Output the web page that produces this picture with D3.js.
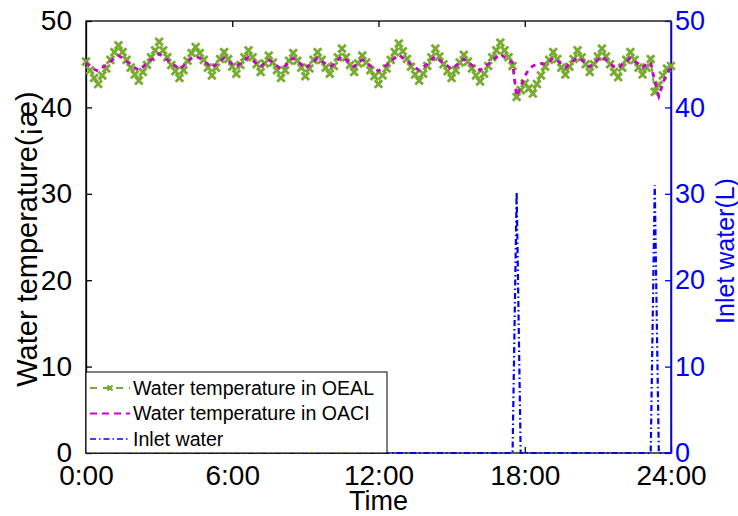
<!DOCTYPE html>
<html>
<head>
<meta charset="utf-8">
<script src="https://cdn.jsdelivr.net/npm/d3@7"></script>
<style>
body { margin: 0; background: #fff; }
text { font-family: Arial, "Liberation Sans", sans-serif; }
</style>
</head>
<body>
<div id="chart"></div>
<script>
// samples every 10 minutes, 0:00 .. 24:00
const stepMinutes = 10;
const oeal = [
  45.3,44.3,43.4,42.7,43.7,44.5,45.5,46.4,47.2,46.4,
  45.5,44.6,43.8,43.1,44.1,44.9,45.8,46.6,47.6,46.6,
  45.8,44.9,44.2,43.4,44.3,45.4,46.3,47.0,46.3,45.5,
  44.6,43.7,44.6,45.6,46.4,45.6,44.7,43.9,44.9,45.8,
  46.6,45.8,45.0,44.1,45.1,46.0,45.2,44.3,43.4,44.3,
  45.4,46.3,45.4,44.6,43.6,44.5,45.5,46.4,45.5,44.6,
  43.9,44.8,45.8,46.8,45.8,44.9,44.1,45.1,46.0,45.2,
  44.3,43.6,42.7,43.7,44.5,45.5,46.4,47.4,46.5,45.6,
  44.7,43.8,43.1,43.9,44.8,45.8,46.8,45.9,45.0,44.2,
  43.4,44.3,45.2,46.1,45.3,44.5,43.7,43.0,43.9,44.8,
  45.8,46.6,47.5,46.6,45.8,44.8,41.2,42.0,42.8,42.2,
  41.6,42.7,43.7,44.7,45.5,46.4,45.6,44.6,43.8,44.7,
  45.6,46.6,45.8,45.0,44.1,45.0,45.9,46.8,45.9,45.0,
  44.1,43.5,44.6,45.5,46.4,45.5,44.6,43.8,44.6,45.6,
  41.8,42.6,43.7,44.5,44.8
];
const oaci = [
  45.2,44.8,44.4,44.2,44.6,44.9,45.3,45.7,46.0,45.7,
  45.3,45.0,44.6,44.3,44.7,45.1,45.5,45.8,46.2,45.8,
  45.5,45.1,44.8,44.4,44.8,45.3,45.7,45.9,45.7,45.3,
  45.0,44.6,45.0,45.4,45.7,45.4,45.0,44.7,45.1,45.5,
  45.8,45.5,45.1,44.7,45.2,45.5,45.2,44.8,44.4,44.8,
  45.3,45.7,45.3,45.0,44.5,44.9,45.3,45.7,45.3,45.0,
  44.7,45.0,45.5,45.9,45.5,45.1,44.7,45.2,45.5,45.2,
  44.8,44.5,44.2,44.6,44.9,45.3,45.7,46.1,45.7,45.4,
  45.0,44.6,44.3,44.7,45.0,45.5,45.9,45.5,45.1,44.8,
  44.4,44.8,45.2,45.6,45.2,44.9,44.6,44.3,44.7,45.0,
  45.5,45.8,46.2,45.8,45.5,45.2,41.3,42.4,43.6,44.4,
  44.8,45.0,45.1,45.0,45.3,45.7,45.4,45.0,44.6,45.0,
  45.4,45.8,45.5,45.1,44.7,45.1,45.5,45.9,45.5,45.1,
  44.7,44.5,45.0,45.3,45.7,45.3,45.0,44.6,45.0,45.2,
  43.0,41.3,42.8,44.0,44.6
];
const inletHours  = [0, 17.5, 17.667, 17.833, 23.167, 23.333, 23.5, 24];
const inletLitres = [0, 0, 30.2, 0, 0, 31.0, 0, 0];

const xTicks = [0, 6, 12, 18, 24];
const xTickLabels = ["0:00", "6:00", "12:00", "18:00", "24:00"];
const yTicks = [0, 10, 20, 30, 40, 50];
const legendLabels = ["Water temperature in OEAL", "Water temperature in OACI", "Inlet water"];

const W = 738, H = 516;
const margin = { top: 21, right: 67, bottom: 63, left: 86 };
const green = "#77ac30", magenta = "#cc00cc", blue = "#0000ff";

const svg = d3.select("#chart").append("svg")
  .attr("width", W).attr("height", H);

const x = d3.scaleLinear().domain([0, 24]).range([margin.left, W - margin.right]);
const yL = d3.scaleLinear().domain([0, 50]).range([H - margin.bottom, margin.top]);
const yR = d3.scaleLinear().domain([0, 50]).range([H - margin.bottom, margin.top]);

const hourOf = i => i * stepMinutes / 60;

// frame
svg.append("rect")
  .attr("x", margin.left).attr("y", margin.top)
  .attr("width", x(24) - x(0)).attr("height", yL(0) - yL(50))
  .attr("fill", "none").attr("stroke", "#000").attr("stroke-width", 1.3);

// left axis
const gL = svg.append("g").attr("transform", `translate(${margin.left},0)`)
  .call(d3.axisLeft(yL).tickValues(yTicks).tickSizeInner(-6).tickSizeOuter(0).tickPadding(14));
gL.select(".domain").attr("stroke", "#000").attr("stroke-width", 1.3);
gL.selectAll("line").attr("stroke", "#000").attr("stroke-width", 1.3);
gL.selectAll("text").attr("font-size", 28).attr("fill", "#000");

// bottom axis
const gB = svg.append("g").attr("transform", `translate(0,${yL(0)})`)
  .call(d3.axisBottom(x).tickValues(xTicks).tickFormat((d, i) => xTickLabels[i])
    .tickSizeInner(-6).tickSizeOuter(0).tickPadding(12));
gB.select(".domain").remove();
gB.selectAll("line").attr("stroke", "#000").attr("stroke-width", 1.3);
gB.selectAll("text").attr("font-size", 28).attr("fill", "#000");

// top ticks
svg.append("g").attr("transform", `translate(0,${yL(50)})`)
  .call(d3.axisTop(x).tickValues(xTicks.slice(1, -1)).tickFormat("").tickSizeInner(-6).tickSizeOuter(0))
  .call(g => g.select(".domain").remove())
  .selectAll("line").attr("stroke", "#000").attr("stroke-width", 1.3);

// right axis
const gR = svg.append("g").attr("transform", `translate(${W - margin.right},0)`)
  .call(d3.axisRight(yR).tickValues(yTicks).tickSizeInner(-6).tickSizeOuter(0).tickPadding(4));
gR.select(".domain").attr("stroke", blue).attr("stroke-width", 1.5);
gR.selectAll("line").attr("stroke", blue).attr("stroke-width", 1.3);
gR.selectAll("text").attr("font-size", 27).attr("fill", blue);

// series
const lineT = d3.line().x((d, i) => x(hourOf(i))).y(d => yL(d));

svg.append("path").datum(oeal)
  .attr("d", lineT).attr("fill", "none")
  .attr("stroke", green).attr("stroke-width", 2).attr("stroke-dasharray", "6,4");

const xMark = "M-3.8,-3.8L3.8,3.8M-3.8,3.8L3.8,-3.8";
svg.append("g").selectAll("path").data(oeal).join("path")
  .attr("transform", (d, i) => `translate(${x(hourOf(i))},${yL(d)})`)
  .attr("d", xMark).attr("stroke", green).attr("stroke-width", 2.8).attr("fill", "none");

svg.append("path").datum(oaci)
  .attr("d", lineT).attr("fill", "none")
  .attr("stroke", magenta).attr("stroke-width", 2.8).attr("stroke-dasharray", "5,5");

const lineW = d3.line().x((d, i) => x(inletHours[i])).y(d => yR(d));
svg.append("path").datum(inletLitres)
  .attr("d", lineW).attr("fill", "none")
  .attr("stroke", blue).attr("stroke-width", 2.2).attr("stroke-dasharray", "6,3,1.5,3");

// legend
const lg = svg.append("g");
lg.append("rect").attr("x", 86).attr("y", 372).attr("width", 301).attr("height", 81)
  .attr("fill", "#fff").attr("stroke", "#000").attr("stroke-width", 1);
const rowY = [388, 413.5, 439];
const sampleStyle = [
  { c: green, w: 2, dash: "7,6" },
  { c: magenta, w: 2, dash: "7,5" },
  { c: blue, w: 1.5, dash: "6,3,1.5,3" }
];
legendLabels.forEach((label, i) => {
  lg.append("line").attr("x1", 90).attr("x2", 130).attr("y1", rowY[i]).attr("y2", rowY[i])
    .attr("stroke", sampleStyle[i].c).attr("stroke-width", sampleStyle[i].w)
    .attr("stroke-dasharray", sampleStyle[i].dash);
  if (i === 0) {
    lg.append("path").attr("transform", `translate(110,${rowY[i]})`)
      .attr("d", "M-2.5,-2.5L2.5,2.5M-2.5,2.5L2.5,-2.5")
      .attr("stroke", green).attr("stroke-width", 2.4);
  }
  lg.append("text").attr("x", 133).attr("y", rowY[i]).attr("dy", "0.35em")
    .attr("font-size", 19.6).attr("fill", "#000").text(label);
});

// axis titles
svg.append("text").attr("x", (x(0) + x(24)) / 2).attr("y", 510)
  .attr("text-anchor", "middle").attr("font-size", 27).attr("fill", "#000").text("Time");
svg.append("text").attr("transform", "translate(37,239) rotate(-90)")
  .attr("text-anchor", "middle").attr("font-size", 29).attr("fill", "#000")
  .text("Water temperature(¡æ)");
svg.append("text").attr("transform", "translate(734,251) rotate(-90)")
  .attr("text-anchor", "middle").attr("font-size", 25).attr("fill", blue)
  .text("Inlet water(L)");
</script>
</body>
</html>
